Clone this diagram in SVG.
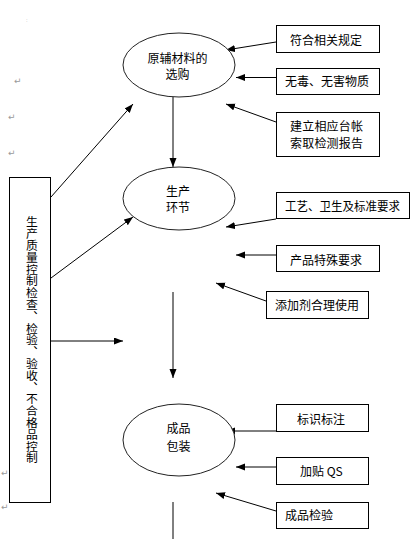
<svg xmlns="http://www.w3.org/2000/svg" width="411" height="539" viewBox="0 0 411 539">
<style>
text{font-family:"Noto Sans CJK SC","Noto Sans",sans-serif;font-size:12px;fill:#000}
.mark{font-family:"DejaVu Sans",sans-serif;font-size:9px;fill:#9a9a9a}
.node ellipse{fill:#fff;stroke:#222;stroke-width:1}
.node rect{fill:#fff;stroke:#000;stroke-width:1}
.c{text-anchor:middle}
.v{writing-mode:vertical-rl;text-orientation:upright;font-size:11.8px}
#connectors line{stroke:#000;stroke-width:1;marker-end:url(#ah)}
#connectors line.plain{marker-end:none}
</style>
<defs>
<marker id="ah" markerUnits="userSpaceOnUse" markerWidth="10" markerHeight="8" refX="9" refY="3.5" orient="auto">
<path d="M0,0 L9,3.5 L0,7 z" fill="#000"/>
</marker>
</defs>
<rect width="411" height="539" fill="#fff"/>

<g id="marks">
<text class="mark" x="26" y="22" style="font-size:5px">:</text>
<text class="mark" x="14" y="84">↵</text>
<text class="mark" x="8" y="120">↵</text>
<text class="mark" x="8" y="156">↵</text>
<text class="mark" x="1" y="476">↵</text>
<text class="mark" x="1" y="510">↵</text>
</g>

<g id="connectors">
<line x1="276" y1="42" x2="226" y2="50"/>
<line x1="276" y1="77.5" x2="236" y2="77.5"/>
<line x1="276" y1="122" x2="226" y2="104"/>
<line x1="173" y1="97" x2="173" y2="167"/>
<line x1="51" y1="197" x2="133" y2="104"/>
<line x1="276" y1="219" x2="226" y2="227"/>
<line x1="276" y1="255" x2="236" y2="255"/>
<line x1="266" y1="301" x2="216" y2="283"/>
<line x1="51" y1="278" x2="133" y2="217"/>
<line x1="173" y1="292" x2="173" y2="378"/>
<line x1="51" y1="341" x2="123" y2="341"/>
<line x1="276" y1="431" x2="226" y2="431"/>
<line x1="276" y1="467" x2="236" y2="467"/>
<line x1="276" y1="511" x2="216" y2="493"/>
<line class="plain" x1="173" y1="502" x2="173" y2="539"/>
</g>

<g id="n-left" class="node">
<rect x="9.5" y="177.5" width="41" height="325"/>
<text class="v" x="32" y="216">生产质量控制检查、检验、验收、不合格品控制</text>
</g>

<g id="n-material" class="node">
<ellipse cx="179" cy="65" rx="56" ry="32"/>
<text class="c" x="177.5" y="62.5">原辅材料的</text>
<text class="c" x="177.5" y="78.5">选购</text>
</g>

<g id="n-production" class="node">
<ellipse cx="179" cy="198.5" rx="56" ry="31.5"/>
<text class="c" x="178" y="195.5">生产</text>
<text class="c" x="178" y="211.5">环节</text>
</g>

<g id="n-packaging" class="node">
<ellipse cx="179" cy="440" rx="56" ry="36"/>
<text class="c" x="178.5" y="432.5">成品</text>
<text class="c" x="178.5" y="450.5">包装</text>
</g>

<g id="n-rule" class="node">
<rect x="276.5" y="25.5" width="103" height="27"/>
<text x="290" y="44.5">符合相关规定</text>
</g>

<g id="n-nontoxic" class="node">
<rect x="276.5" y="68.5" width="103" height="26"/>
<text x="285" y="86">无毒、无害物质</text>
</g>

<g id="n-ledger" class="node">
<rect x="276.5" y="112.5" width="103" height="44"/>
<text x="290" y="131" letter-spacing="0.2">建立相应台帐</text>
<text x="290" y="148" letter-spacing="0.2">索取检测报告</text>
</g>

<g id="n-process" class="node">
<rect x="276.5" y="192.5" width="133" height="26"/>
<text x="285" y="210.5" textLength="115" lengthAdjust="spacingAndGlyphs">工艺、卫生及标准要求</text>
</g>

<g id="n-special" class="node">
<rect x="276.5" y="245.5" width="103" height="26"/>
<text x="290" y="264.5">产品特殊要求</text>
</g>

<g id="n-additive" class="node">
<rect x="266.5" y="291.5" width="102" height="27"/>
<text x="275" y="309.5">添加剂合理使用</text>
</g>

<g id="n-label" class="node">
<rect x="276.5" y="404.5" width="92" height="27"/>
<text x="297" y="423.5">标识标注</text>
</g>

<g id="n-qs" class="node">
<rect x="276.5" y="457.5" width="92" height="27"/>
<text x="300" y="476">加贴 QS</text>
</g>

<g id="n-inspect" class="node">
<rect x="276.5" y="502.5" width="92" height="26"/>
<text x="285" y="519.5">成品检验</text>
</g>
</svg>
